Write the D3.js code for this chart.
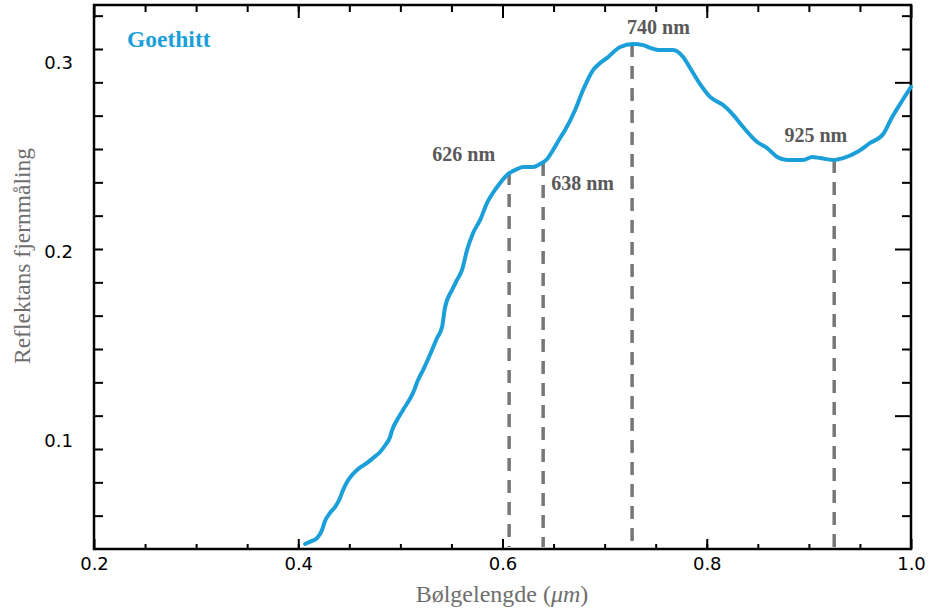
<!DOCTYPE html>
<html>
<head>
<meta charset="utf-8">
<script src="https://cdn.jsdelivr.net/npm/d3@7"></script>
<style>
  body { margin: 0; background: #fff; }
  svg { display: block; }
</style>
</head>
<body>
<svg id="chart"></svg>
<script>
// wavelength (µm) and reflectance
const wavelength = [
  0.4067, 0.4086, 0.4135, 0.4184, 0.4233, 0.4262, 0.4311, 0.4360, 0.4409, 0.4439,
  0.4478, 0.4527, 0.4586, 0.4674, 0.4733, 0.4801, 0.4860, 0.4899, 0.4919, 0.4968,
  0.5026, 0.5124, 0.5173, 0.5222, 0.5310, 0.5359, 0.5408, 0.5438, 0.5506, 0.5555,
  0.5604, 0.5653, 0.5712, 0.5781, 0.5849, 0.5947, 0.6045, 0.6143, 0.6202, 0.6300,
  0.6368, 0.6437, 0.6496, 0.6564, 0.6613, 0.6711, 0.6789, 0.6887, 0.6956, 0.7024,
  0.7152, 0.7279, 0.7377, 0.7446, 0.7524, 0.7671, 0.7769, 0.7837, 0.7935, 0.8033,
  0.8161, 0.8259, 0.8356, 0.8494, 0.8592, 0.8690, 0.8787, 0.8944, 0.9032, 0.9111,
  0.9238, 0.9336, 0.9473, 0.9600, 0.9728, 0.9816, 0.9894, 1.0
];
const reflectance = [
  0.0456, 0.0461, 0.0472, 0.0487, 0.0530, 0.0577, 0.0620, 0.0651, 0.0699, 0.0741,
  0.0783, 0.0820, 0.0852, 0.0884, 0.0910, 0.0942, 0.0984, 0.1021, 0.1058, 0.1111,
  0.1164, 0.1254, 0.1322, 0.1375, 0.1481, 0.1544, 0.1602, 0.1708, 0.1798, 0.1851,
  0.1904, 0.2009, 0.2099, 0.2168, 0.2258, 0.2342, 0.2406, 0.2437, 0.2448, 0.2448,
  0.2464, 0.2490, 0.2538, 0.2601, 0.2643, 0.2749, 0.2855, 0.2960, 0.2997, 0.3024,
  0.3082, 0.3098, 0.3092, 0.3077, 0.3066, 0.3066, 0.3029, 0.2971, 0.2886, 0.2818,
  0.2775, 0.2723, 0.2659, 0.2580, 0.2548, 0.2501, 0.2485, 0.2485, 0.2501, 0.2495,
  0.2485, 0.2495, 0.2527, 0.2575, 0.2622, 0.2712, 0.2781, 0.2871
];

// marked features: label, wavelength of the dashed line, curve value at its top
const markLabels = ["626 nm", "638 nm", "740 nm", "925 nm"];
const markX      = [0.6065, 0.6398, 0.7269, 0.9248];
const markTop    = [0.2421, 0.2469, 0.3098, 0.2485];

const xTicksMajor = [0.2, 0.4, 0.6, 0.8, 1.0];
const xTicksMinor = d3.range(0.25, 1.0, 0.05);
const yLabels     = [0.1, 0.2, 0.3];

const seriesName = "Goethitt";
const lineColor  = "#1b9fd9";

const margin = { top: 5, right: 19, bottom: 60, left: 94 };
const width  = 930 - margin.left - margin.right;
const height = 609 - margin.top - margin.bottom;

const svg = d3.select("#chart")
  .attr("width", 930)
  .attr("height", 609)
  .append("g")
  .attr("transform", `translate(${margin.left},${margin.top})`);

const x = d3.scaleLinear().domain([0.2, 1.0]).range([0, width]);
const y = d3.scaleLinear().domain([0.04293, 0.33038]).range([height, 0]);
// the frame's own tick marks do not line up with the value labels
const tickIndex = d3.scaleLinear().domain([0, 16.32]).range([height, 0]);
const frameTicks = d3.range(1, 17);
const frameMajor = [4, 9, 14];

function frameAxis(axis, cls, transform) {
  const g = svg.append("g").attr("class", cls).attr("transform", transform).call(axis);
  g.select(".domain").remove();
  g.selectAll("line").attr("stroke", "#000").attr("stroke-width", 2);
  return g;
}

// bottom
frameAxis(d3.axisBottom(x).tickValues(xTicksMinor).tickSize(-5).tickFormat(""), "xb-minor", `translate(0,${height})`);
const xb = frameAxis(d3.axisBottom(x).tickValues(xTicksMajor).tickSize(-10).tickPadding(8).tickFormat(d3.format(".1f")), "xb-major", `translate(0,${height})`);
xb.selectAll("text")
  .attr("fill", "#000")
  .style("font-family", "'DejaVu Sans', sans-serif")
  .style("font-size", "18px");

// top
frameAxis(d3.axisTop(x).tickValues(xTicksMinor).tickSize(-7).tickFormat(""), "xt-minor", "translate(0,0)");
frameAxis(d3.axisTop(x).tickValues(xTicksMajor).tickSize(-13).tickFormat(""), "xt-major", "translate(0,0)");

// left
frameAxis(d3.axisLeft(tickIndex).tickValues(frameTicks).tickSize(-9).tickFormat(""), "yl", "translate(0,0)");

// right
frameAxis(d3.axisRight(tickIndex).tickValues(frameTicks.filter(t => !frameMajor.includes(t))).tickSize(-9).tickFormat(""), "yr-minor", `translate(${width},0)`);
frameAxis(d3.axisRight(tickIndex).tickValues(frameMajor).tickSize(-16).tickFormat(""), "yr-major", `translate(${width},0)`);

svg.append("rect")
  .attr("width", width)
  .attr("height", height)
  .attr("fill", "none")
  .attr("stroke", "#000")
  .attr("stroke-width", 2.5);

svg.selectAll(".ylabel")
  .data(yLabels)
  .join("text")
  .attr("class", "ylabel")
  .attr("x", -21)
  .attr("y", d => y(d))
  .attr("dy", "0.36em")
  .attr("text-anchor", "end")
  .attr("fill", "#000")
  .style("font-family", "'DejaVu Sans', sans-serif")
  .style("font-size", "18px")
  .text(d3.format(".1f"));

// dashed markers
const marks = markLabels.map((label, i) => ({ label, wl: markX[i], top: markTop[i] }));
svg.selectAll(".mark")
  .data(marks)
  .join("line")
  .attr("class", "mark")
  .attr("x1", d => x(d.wl))
  .attr("x2", d => x(d.wl))
  .attr("y1", d => y(d.top))
  .attr("y2", height - 2)
  .attr("stroke", "#777")
  .attr("stroke-width", 3.5)
  .attr("stroke-dasharray", "13,9");

const points = wavelength.map((w, i) => [w, reflectance[i]]);
svg.append("path")
  .datum(points)
  .attr("fill", "none")
  .attr("stroke", lineColor)
  .attr("stroke-width", 4)
  .attr("stroke-linecap", "round")
  .attr("stroke-linejoin", "round")
  .attr("d", d3.line().x(d => x(d[0])).y(d => y(d[1])).curve(d3.curveMonotoneX));

// label placement relative to each dashed line
const labelPlace = {
  "626 nm": { dx: -14, dy: -11, anchor: "end" },
  "638 nm": { dx: 8,   dy: 27,  anchor: "start" },
  "740 nm": { dx: -5,  dy: -10, anchor: "start" },
  "925 nm": { dx: 13,  dy: -18, anchor: "end" },
};

svg.selectAll(".mark-label")
  .data(marks)
  .join("text")
  .attr("class", "mark-label")
  .attr("x", d => x(d.wl) + labelPlace[d.label].dx)
  .attr("y", d => y(d.top) + labelPlace[d.label].dy)
  .attr("text-anchor", d => labelPlace[d.label].anchor)
  .attr("fill", "#595959")
  .style("font-family", "'Liberation Serif', serif")
  .style("font-weight", "bold")
  .style("font-size", "20px")
  .text(d => d.label);

svg.append("text")
  .attr("x", 33)
  .attr("y", 42)
  .attr("fill", lineColor)
  .style("font-family", "'Liberation Serif', serif")
  .style("font-weight", "bold")
  .style("font-size", "23.5px")
  .text(seriesName);

// axis titles
const title = d3.select("#chart");
const xTitle = title.append("text")
  .attr("x", 502)
  .attr("y", 602)
  .attr("text-anchor", "middle")
  .attr("fill", "#6e6e6e")
  .style("font-family", "'Liberation Serif', serif")
  .style("font-size", "24px");
xTitle.append("tspan").text("Bølgelengde (");
xTitle.append("tspan").style("font-style", "italic").text("μm");
xTitle.append("tspan").text(")");

title.append("text")
  .attr("transform", "translate(30,256) rotate(-90)")
  .attr("text-anchor", "middle")
  .attr("fill", "#6e6e6e")
  .style("font-family", "'Liberation Serif', serif")
  .style("font-size", "23.5px")
  .text("Reflektans fjernmåling");
</script>
</body>
</html>
